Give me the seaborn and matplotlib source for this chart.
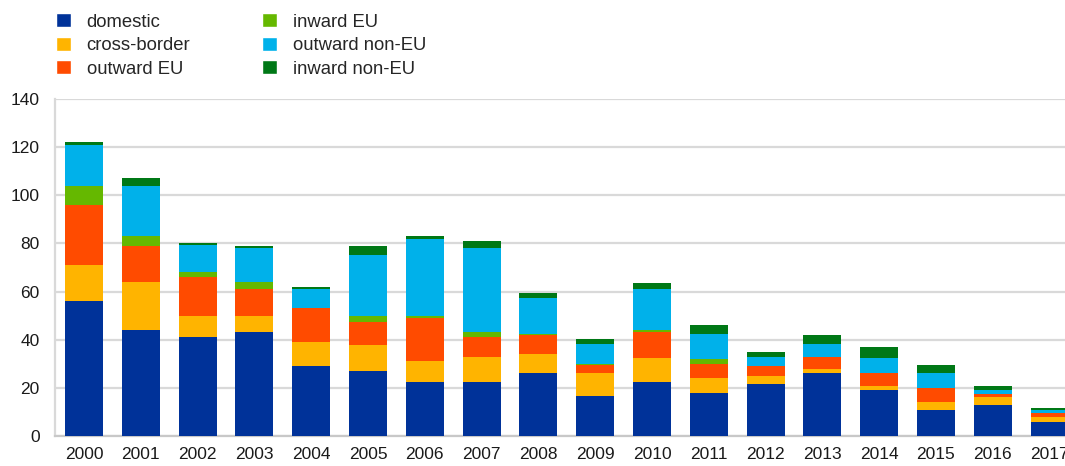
import numpy as np
import pandas as pd
import matplotlib.pyplot as plt
import seaborn as sns
from matplotlib.patches import Patch

# Data
years = [str(y) for y in range(2000, 2018)]

domestic = [56, 44, 41, 43, 29, 27, 22.5, 22.5, 26, 16.7, 22.5, 18, 21.7, 26, 19, 10.8, 12.8, 5.8]
cross_border = [15, 20, 9, 7, 10, 11, 8.5, 10.5, 8, 9.3, 9.7, 6, 3.4, 1.8, 1.8, 3.2, 3.6, 2.2]
outward_eu = [25, 15, 16, 11, 14, 9.5, 18, 8, 8, 3.7, 11, 5.8, 3.8, 5, 5.2, 5.9, 1.0, 1.4]
inward_eu = [8, 4, 2, 3, 0.3, 2.5, 1, 2, 0.2, 0.3, 1, 2.2, 0.3, 0.2, 0.2, 0.2, 0.2, 0.3]
outward_non_eu = [17, 21, 11.5, 14, 7.7, 25, 32, 35, 15, 8.2, 17, 10.2, 3.8, 5.2, 6, 5.9, 1.4, 1.1]
inward_non_eu = [1, 3, 0.8, 1, 1, 4, 1, 3, 2, 2, 2.2, 4, 2, 3.8, 4.8, 3.7, 1.8, 1.0]

series = {
    "domestic": domestic,
    "cross-border": cross_border,
    "outward EU": outward_eu,
    "inward EU": inward_eu,
    "outward non-EU": outward_non_eu,
    "inward non-EU": inward_non_eu,
}
colors = {
    "domestic": "#003299",
    "cross-border": "#FFB400",
    "outward EU": "#FF4B00",
    "inward EU": "#65B800",
    "outward non-EU": "#00B1EA",
    "inward non-EU": "#007816",
}

df = pd.DataFrame(series, index=years)
cum = df.cumsum(axis=1)

sns.set_style("white")
plt.rcParams['font.family'] = ['Liberation Sans', 'DejaVu Sans']

fig = plt.figure(figsize=(10.65, 4.66), dpi=100)
ax = fig.add_axes([55 / 1065, 30 / 466, 1010 / 1065, 337 / 466])

# stacked bars: draw cumulative totals from the top series down
for name in reversed(list(series.keys())):
    sns.barplot(x=cum.index, y=cum[name].values, color=colors[name],
                saturation=1, width=0.67, linewidth=0, ax=ax, zorder=3)

ax.set_ylim(0, 140)
ax.set_yticks(range(0, 141, 20))
ax.set_xlim(-0.51, -0.51 + 1010 / 56.8)
ax.yaxis.grid(True, color="#d9d9d9", linewidth=1.6, zorder=0)
ax.set_axisbelow(True)
ax.set_xlabel("")
ax.set_ylabel("")

for side in ["top", "right"]:
    ax.spines[side].set_visible(False)
ax.spines["left"].set_color("#d9d9d9")
ax.spines["left"].set_linewidth(1.6)
ax.spines["bottom"].set_color("#c8c8c8")
ax.spines["bottom"].set_linewidth(1.6)

ax.tick_params(axis="both", length=0, labelsize=12.5, labelcolor="#1a1a1a")
ax.tick_params(axis="x", pad=8)
ax.tick_params(axis="y", pad=11)

handles = [Patch(facecolor=colors[n], label=n) for n in series]
fig.legend(handles=handles, ncol=2, loc="upper left",
           bbox_to_anchor=(45 / 1065, 1.0 - 2 / 466), frameon=False,
           fontsize=13.3, handlelength=0.8, handleheight=0.8,
           handletextpad=0.85, columnspacing=3.9, labelspacing=0.33,
           borderaxespad=0.2)

fig.savefig("out.png", dpi=100)
